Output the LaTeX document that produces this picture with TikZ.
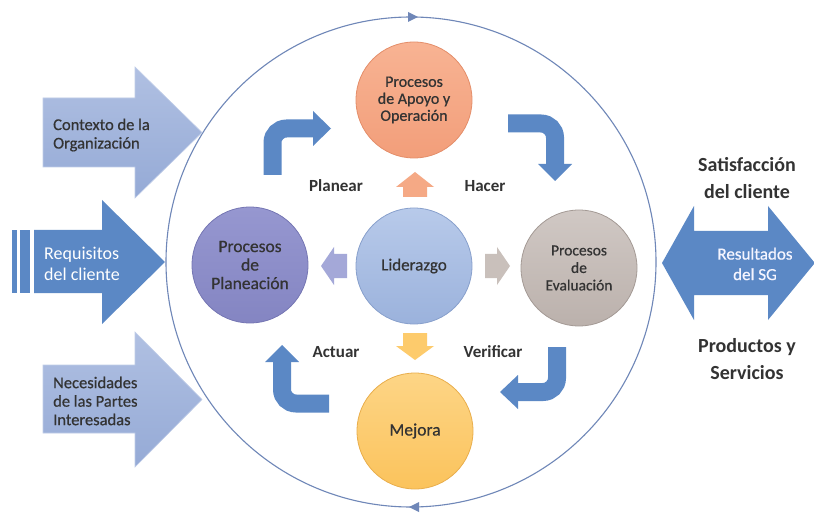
\documentclass[tikz,border=0pt]{standalone}
\usepackage{fontspec}
\setmainfont{Carlito}
\newfontfamily\semi[FakeBold=0.6]{Carlito}
\definecolor{ringc}{HTML}{6F87B8}
\definecolor{txt}{HTML}{333333}
\definecolor{bluearr}{HTML}{5B88C5}
\definecolor{lightA}{HTML}{B0C0E2}
\definecolor{lightB}{HTML}{95AAD6}
\definecolor{orA}{HTML}{F8B393}
\definecolor{orB}{HTML}{F29E7A}
\definecolor{orE}{HTML}{E48E6A}
\definecolor{puA}{HTML}{9697D0}
\definecolor{puB}{HTML}{8485C2}
\definecolor{puE}{HTML}{7576B3}
\definecolor{blA}{HTML}{B8CAEA}
\definecolor{blB}{HTML}{9BB2DC}
\definecolor{blE}{HTML}{88A0CC}
\definecolor{grA}{HTML}{D0C8C4}
\definecolor{grB}{HTML}{BBB1AC}
\definecolor{grE}{HTML}{A49A95}
\definecolor{yeA}{HTML}{FDD586}
\definecolor{yeB}{HTML}{FBC35C}
\definecolor{yeE}{HTML}{E9AE4C}
\definecolor{smor}{HTML}{F5A985}
\definecolor{smpu}{HTML}{A4A8D8}
\definecolor{smgr}{HTML}{C9C0BB}
\definecolor{smye}{HTML}{FDCB6C}
\tikzset{
  proc/.style={circle, minimum size=116pt, inner sep=0pt, align=center, text=txt, line width=0.8pt},
  band/.style={draw=bluearr, line width=18pt, rounded corners=14pt},
  headfill/.style={fill=bluearr},
  steplab/.style={font=\bfseries\fontsize{17}{19}\selectfont, text=txt},
  bigarrow/.style={top color=lightA, bottom color=lightB, draw=lightA!80!white, line width=0.6pt},
  arrtext/.style={font=\semi\fontsize{16.5}{18.5}\selectfont, text=txt, align=left, anchor=west, inner sep=0pt},
  outtext/.style={font=\bfseries\fontsize{20}{27}\selectfont, text=txt, align=center},
}
\begin{document}
\begin{tikzpicture}[x=1pt,y=-1pt]
\useasboundingbox (0,0) rectangle (814,513);
\fill[white] (0,0) rectangle (814,513);

% big ring
\node[circle, draw=ringc, line width=1.1pt, minimum size=490pt, inner sep=0pt] (ring) at (411,262) {};
\fill[ringc] (418,17) -- (408,12) -- (408,22) -- cycle;
\fill[ringc] (409,507) -- (419,502) -- (419,512) -- cycle;

% left arrows
\path[bigarrow] (43,98) -- (135,98) -- (135,67) -- (202,132.5) -- (135,198) -- (135,167) -- (43,167) -- cycle;
\node[arrtext] (contexto) at (53,135) {Contexto de la\\Organización};

\fill[bluearr] (12,230) rectangle (17,293);
\fill[bluearr] (20,230) rectangle (30,293);
\fill[bluearr] (34,230) -- (102,230) -- (102,200) -- (165,262) -- (102,324) -- (102,293) -- (34,293) -- cycle;
\node[arrtext, text=white, font=\fontsize{18}{21}\selectfont] (requisitos) at (44,264) {Requisitos\\del cliente};

\path[bigarrow] (43,365) -- (135,365) -- (135,332) -- (202,399.5) -- (135,467) -- (135,433) -- (43,433) -- cycle;
\node[arrtext] (necesidades) at (53,401) {Necesidades\\de las Partes\\Interesadas};

% right double arrow
\fill[bluearr] (662,263) -- (694,206) -- (694,231) -- (768,231) -- (768,206) -- (814,262) -- (814,264) -- (768,320) -- (768,295) -- (694,295) -- (694,320) -- cycle;
\node[font=\semi\fontsize{17}{20.5}\selectfont, text=white!96!blue, align=center] (resultados) at (755,264) {Resultados\\del SG};
\node[outtext] (satis) at (747,178) {Satisfacción\\del cliente};
\node[outtext] (productos) at (747,359) {Productos y\\Servicios};

% process circles
\node[proc, top color=orA, bottom color=orB, draw=orE, font=\semi\fontsize{16}{17}\selectfont] (apoyo) at (414,100) {Procesos\\de Apoyo y\\Operación};
\node[proc, top color=puA, bottom color=puB, draw=puE, font=\semi\fontsize{17.5}{18.5}\selectfont] (planeacion) at (250,265) {Procesos\\de\\Planeación};
\node[proc, top color=blA, bottom color=blB, draw=blE, font=\semi\fontsize{17}{18}\selectfont] (liderazgo) at (414,266) {Liderazgo};
\node[proc, top color=grA, bottom color=grB, draw=grE, font=\semi\fontsize{15.5}{17.5}\selectfont] (evaluacion) at (579,268) {Procesos\\de\\Evaluación};
\node[proc, top color=yeA, bottom color=yeB, draw=yeE, font=\semi\fontsize{17.5}{19}\selectfont] (mejora) at (415,431) {Mejora};

% small arrows from Liderazgo
\fill[smor] (415,172) -- (434,187) -- (427,187) -- (427,197) -- (403,197) -- (403,187) -- (396,187) -- cycle;
\fill[smye] (415,360) -- (434,346) -- (427,346) -- (427,333) -- (403,333) -- (403,346) -- (396,346) -- cycle;
\fill[smpu] (321,266) -- (334,247) -- (334,254) -- (347,254) -- (347,278) -- (334,278) -- (334,285) -- cycle;
\fill[smgr] (510,266) -- (497,247) -- (497,254) -- (485,254) -- (485,278) -- (497,278) -- (497,285) -- cycle;

% bent arrows
\draw[band] (272.5,175) -- (272.5,128.5) -- (314,128.5);
\fill[headfill] (313,111) -- (331,128.5) -- (313,146) -- cycle;

\draw[band] (508,123.5) -- (555,123.5) -- (555,165);
\fill[headfill] (538,164) -- (572,164) -- (555,181) -- cycle;

\draw[band] (557,347) -- (557,392) -- (517,392);
\fill[headfill] (518,375) -- (518,409) -- (500,392) -- cycle;

\draw[band] (329,403.5) -- (282,403.5) -- (282,361);
\fill[headfill] (265,362) -- (299,362) -- (282,345) -- cycle;

% step labels
\node[steplab] (planear) at (336,186) {Planear};
\node[steplab] (hacer) at (485,186) {Hacer};
\node[steplab] (actuar) at (336,352) {Actuar};
\node[steplab] (verificar) at (493,352) {Verificar};
\end{tikzpicture}
\end{document}
